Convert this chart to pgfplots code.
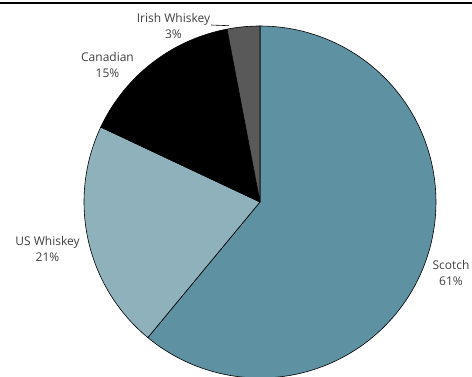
\documentclass[border=0pt]{standalone}
\usepackage{pgfplots}
\pgfplotsset{compat=1.18}
\usepackage{fontspec}
\setmainfont{Open Sans}
\definecolor{scotch}{HTML}{5E91A2}
\definecolor{usw}{HTML}{8FB1BC}
\definecolor{canad}{HTML}{000000}
\definecolor{irish}{HTML}{595959}
\definecolor{txt}{HTML}{404040}
\begin{document}
\begin{tikzpicture}
\useasboundingbox (0pt,0pt) rectangle (472pt,376pt);
\def\vS{61}\def\vU{21}\def\vC{15}\def\vI{3}
\pgfmathsetmacro\aA{90}
\pgfmathsetmacro\aB{90-3.6*\vS}
\pgfmathsetmacro\aC{\aB-3.6*\vU}
\pgfmathsetmacro\aD{\aC-3.6*\vC}
\pgfmathsetmacro\aE{\aD-3.6*\vI}
\begin{axis}[at={(260pt,174pt)}, anchor=center, width=352pt, height=352pt,
  scale only axis, xmin=-1, xmax=1, ymin=-1, ymax=1, hide axis, clip=false]
\addplot[fill=scotch, draw=black, line width=0.6pt, domain=\aB:\aA, samples=120] ({cos(x)},{sin(x)}) -- (axis cs:0,0) -- cycle;
\addplot[fill=usw, draw=black, line width=0.6pt, domain=\aC:\aB, samples=60] ({cos(x)},{sin(x)}) -- (axis cs:0,0) -- cycle;
\addplot[fill=canad, draw=black, line width=0.6pt, domain=\aD:\aC, samples=60] ({cos(x)},{sin(x)}) -- (axis cs:0,0) -- cycle;
\addplot[fill=irish, draw=black, line width=0.6pt, domain=\aE:\aD, samples=20] ({cos(x)},{sin(x)}) -- (axis cs:0,0) -- cycle;
\end{axis}
\draw[black, line width=1.4pt] (0pt,373pt) -- (472pt,373pt);
\draw[black, line width=0.6pt] (211pt,351pt) -- (229pt,350.3pt);
\begin{scope}[every node/.style={align=center, text=txt, font=\fontsize{12}{16}\selectfont, inner sep=0pt}]
\node at (173.5pt,350pt) {Irish Whiskey\\3\%};
\node at (107.5pt,311pt) {Canadian\\15\%};
\node at (47.5pt,127pt) {US Whiskey\\21\%};
\node at (451pt,103.5pt) {Scotch\\61\%};
\end{scope}
\end{tikzpicture}
\end{document}
